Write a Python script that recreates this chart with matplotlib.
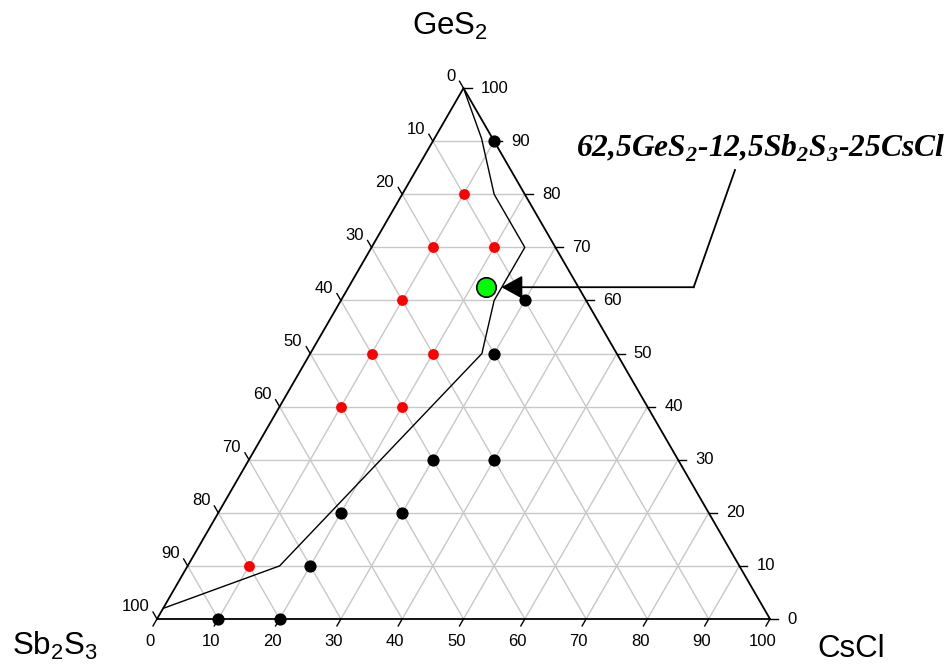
#Ternary diagram GeS2 - Sb2S3 - CsCl
import numpy as np
import matplotlib
matplotlib.use('Agg')
import matplotlib.pyplot as plt

plt.rcParams['font.family'] = ['Liberation Sans', 'DejaVu Sans']
plt.rcParams['mathtext.fontset'] = 'custom'
plt.rcParams['mathtext.sf'] = 'Liberation Sans'
plt.rcParams['mathtext.bf'] = 'Liberation Serif:italic:bold'

#compositions (mol %)
red_ges2 = [80, 70, 70, 60, 50, 50, 40, 40, 10]
red_sb2s3 = [10, 20, 10, 30, 40, 30, 50, 40, 80]
red_cscl = [10, 10, 20, 10, 10, 20, 10, 20, 10]

black_ges2 = [90, 60, 50, 30, 30, 20, 20, 10, 0, 0]
black_sb2s3 = [0, 10, 20, 40, 30, 60, 50, 70, 90, 80]
black_cscl = [10, 30, 30, 30, 40, 20, 30, 20, 10, 20]

#glass forming domain boundary
bound_ges2 = [100, 90.5, 80, 70, 60, 50, 10, 2]
bound_cscl = [0, 7.7, 15, 25, 25, 28, 15, 0]

#highlighted composition
sel_ges2 = [62.5]
sel_cscl = [22.5]
sel_label = r'62,5GeS$_\mathbf{2}$-12,5Sb$_\mathbf{2}$S$_\mathbf{3}$-25CsCl'

ticks = np.arange(0, 101, 10)
h = np.sqrt(3) / 2


def tern(g, c):
    g = np.asarray(g, dtype=float)
    c = np.asarray(c, dtype=float)
    return c + g / 2, g * h


fig = plt.figure(figsize=(9.5, 6.69), dpi=100)
ax = fig.add_axes([0, 0, 1, 1])
ppu = 6.13  # pixels per percent
ax.set_xlim(-157 / ppu, (950 - 157) / ppu)
ax.set_ylim(-50 / ppu, (669 - 50) / ppu)
ax.axis('off')

#grid
for v in ticks[1:-1]:
    for g, c in [([v, v], [0, 100 - v]), ([0, 100 - v], [v, v]), ([0, 100 - v], [100 - v, 0])]:
        x, y = tern(g, c)
        ax.plot(x, y, color='#c8c8c8', lw=1, zorder=1)

#triangle
x, y = tern([0, 0, 100, 0], [0, 100, 0, 0])
ax.plot(x, y, color='black', lw=1.3, zorder=3)

#ticks and tick labels
L = 8 / ppu
fs = 12
for v in ticks:
    # bottom: CsCl
    bx, by = tern(0, v)
    ax.plot([bx, bx - L * 0.5], [by, by - L * h], color='black', lw=1, zorder=3)
    ax.text(bx - 1.2, -3.7, str(v), ha='center', va='center', fontsize=fs)
    # left: Sb2S3
    lx, ly = tern(100 - v, 0)
    ax.plot([lx, lx - L * 0.5], [ly, ly + L * h], color='black', lw=1, zorder=3)
    ax.text(lx - 1.3, ly + 1.96, str(v), ha='right', va='center', fontsize=fs)
    # right: GeS2
    rx, ry = tern(v, 100 - v)
    ax.plot([rx, rx + L], [ry, ry], color='black', lw=1, zorder=3)
    ax.text(rx + 2.77, ry, str(v), ha='left', va='center', fontsize=fs)

#corner labels
ax.text(41.6, 95.3, r'GeS$_\mathsf{2}$', ha='left', va='baseline', fontsize=22.5)
ax.text(-23.65, -5.87, r'Sb$_\mathsf{2}$S$_\mathsf{3}$', ha='left', va='baseline', fontsize=22.5)
ax.text(107.67, -6.2, 'CsCl', ha='left', va='baseline', fontsize=22.5)

#boundary
x, y = tern(bound_ges2, bound_cscl)
ax.plot(x, y, color='black', lw=1, zorder=4)

#points
x, y = tern(red_ges2, red_cscl)
ax.plot(x, y, 'o', color='red', ms=7.8, mew=0, zorder=5)
x, y = tern(black_ges2, black_cscl)
ax.plot(x, y, 'o', color='black', ms=8.8, mew=0, zorder=5)
sx, sy = tern(sel_ges2, sel_cscl)
ax.plot(sx, sy, 'o', color='#00ff00', mec='black', mew=1.2, ms=14, zorder=6)

#annotation with leader line and arrow
bend = (sx[0] + 33.8, sy[0])
ax.plot([bend[0], (735 - 157) / ppu], [bend[1], (619 - 170) / ppu], color='black', lw=1.3, zorder=6)
ax.annotate('', xy=(sx[0] + 2.45, sy[0]), xytext=bend,
            arrowprops=dict(arrowstyle='-|>,head_length=1.3,head_width=0.72', color='black',
                            lw=1.3, shrinkA=0, shrinkB=0, mutation_scale=10), zorder=6)
ax.text((945 - 157) / ppu, (619 - 157) / ppu, sel_label, ha='right', va='baseline',
        fontsize=22.7, family='Liberation Serif', style='italic', weight='bold')

plt.savefig('out.png', dpi=100)
